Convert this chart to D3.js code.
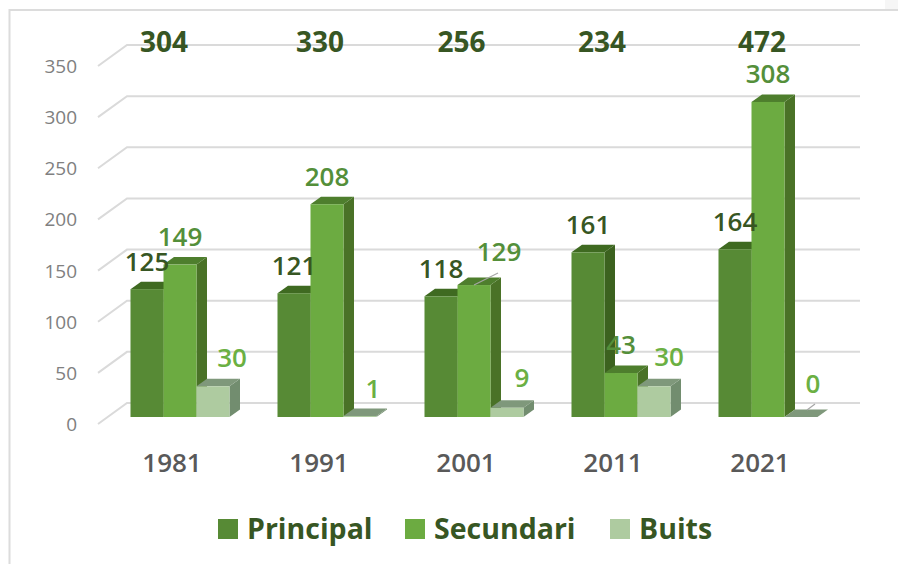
<!DOCTYPE html>
<html><head><meta charset="utf-8">
<script src="https://cdnjs.cloudflare.com/ajax/libs/d3/7.8.5/d3.min.js"></script>
<style>html,body{margin:0;padding:0;background:#fff}svg{display:block}text{font-family:"Open Sans","Noto Sans",sans-serif}</style>
</head><body><div id="chart"></div>
<script>
const years = ["1981","1991","2001","2011","2021"];
const seriesNames = ["Principal","Secundari","Buits"];
const principal = [125,121,118,161,164];
const secundari = [149,208,129,43,308];
const buits = [30,1,9,30,0];
const totals = [304,330,256,234,472];
const yTicks = [0,50,100,150,200,250,300,350];

const W=898,H=564;
const values=[principal,secundari,buits];
const front=["#578a35","#6cab41","#aecba0"];
const top3=["#3f6a21","#4e7e2d","#7f987b"];
const side=["#3c621f","#4a7227","#728d6f"];
const labelCol=["#375623","#548f3a","#6bb043"];
// manual label nudges (dx, dy) as placed in the original chart
const nudge=[
 [[0,0],[0,0],[0,0],[0,0],[0,0]],
 [[0,0],[0,0],[25,-5],[0,0],[0,0]],
 [[19,-1],[13,1],[15,-2],[15,-2],[12,-5]]
];
const totalNudge=[-16,-7,-12.5,-19,-6];
const svg=d3.select("#chart").append("svg").attr("width",W).attr("height",H);
svg.append("rect").attr("width",W).attr("height",H).attr("fill","#fff");
svg.append("rect").attr("x",885).attr("y",0).attr("width",13).attr("height",9).attr("fill","#f6f6f6");
svg.append("path").attr("d","M9.5,564V10H898").attr("fill","none").attr("stroke","#dcdcdc").attr("stroke-width",2);

const y=d3.scaleLinear().domain([0,350]).range([417,59]);
const x=d3.scaleBand().domain(years).range([106.5,841.5]).paddingInner(48/147).paddingOuter(24/147);
const xs=d3.scaleBand().domain(seriesNames).range([0,x.bandwidth()]);
const dx=10.5,dy=7.5;
const gridBackDy=14,gridFrontDy=7,gridX0=98,gridX1=127,gridX2=860;

const line=d3.line();
const g=svg.append("g");
g.selectAll("path.grid").data(yTicks).join("path").attr("class","grid")
 .attr("d",d=>line([[gridX0,y(d)+gridFrontDy],[gridX1,y(d)-gridBackDy],[gridX2,y(d)-gridBackDy]]))
 .attr("fill","none").attr("stroke","#dadada").attr("stroke-width",2);

// y axis labels
const yAxis=svg.append("g").attr("transform",`translate(77,${gridFrontDy})`)
 .call(d3.axisLeft(y).tickValues(yTicks).tickSize(0).tickPadding(0));
yAxis.select(".domain").remove();
yAxis.selectAll("text").attr("font-size",19).attr("fill","#808080").style("font-family",'"Open Sans"').attr("dy","0.34em");

// x axis labels
const xAxis=svg.append("g").attr("transform",`translate(-8,${y(0)+46})`)
 .call(d3.axisBottom(x).tickSize(0).tickPadding(0));
xAxis.select(".domain").remove();
xAxis.selectAll("text").attr("font-size",26).attr("font-weight",600).attr("fill","#595959").attr("dy","0.71em").attr("y",-9);

// bars
years.forEach((yr,i)=>{
 seriesNames.forEach((s,k)=>{
  const v=values[k][i], x0=x(yr)+xs(s), w=xs.bandwidth(), t=y(v), b=y(0);
  const bar=svg.append("g");
  bar.append("path").attr("d",line([[x0+w,t],[x0+w+dx,t-dy],[x0+w+dx,b-dy],[x0+w,b]])+"Z").attr("fill",side[k]);
  bar.append("path").attr("d",line([[x0,t],[x0+w,t],[x0+w+dx,t-dy],[x0+dx,t-dy]])+"Z").attr("fill",top3[k]);
  bar.append("rect").attr("x",x0).attr("y",t).attr("width",w).attr("height",b-t).attr("fill",front[k]);
 });
});

// leader lines
[[1,2],[2,4]].forEach(([k,i])=>{
 const x0=x(years[i])+xs(seriesNames[k])+xs.bandwidth()/2;
 const t=y(values[k][i]);
 const p=k===1?[[x0,t],[x0+24,t-12]]:[[x0+6,t-7],[x0+14,t-13]];
 svg.append("path").attr("d",line(p)).attr("stroke","#a6a6a6").attr("stroke-width",1.2).attr("fill","none");
});

// value labels
years.forEach((yr,i)=>{
 seriesNames.forEach((s,k)=>{
  const v=values[k][i];
  svg.append("text").text(v)
   .attr("x",x(yr)+xs(s)+xs.bandwidth()/2+nudge[k][i][0])
   .attr("y",y(v)-28+nudge[k][i][1]).attr("dy","0.36em")
   .attr("text-anchor","middle").attr("font-size",26).attr("font-weight",600).attr("fill",labelCol[k]);
 });
 svg.append("text").text(totals[i])
  .attr("x",x(yr)+x.bandwidth()/2+totalNudge[i]).attr("y",y(350)-17).attr("dy","0.36em")
  .attr("text-anchor","middle").attr("font-size",28).attr("font-weight",700).attr("fill","#375623");
});

// legend
const legendX=d3.scaleOrdinal().domain(seriesNames).range([218,405,610]);
const leg=svg.selectAll("g.leg").data(seriesNames).join("g").attr("class","leg").attr("transform",d=>`translate(${legendX(d)},519)`);
leg.append("rect").attr("width",20).attr("height",20).attr("fill",(d,i)=>front[i]);
leg.append("text").text(d=>d).attr("x",29).attr("y",10).attr("dy","0.36em").attr("font-size",28.5).attr("font-weight",700).attr("fill","#375623");
</script></body></html>
